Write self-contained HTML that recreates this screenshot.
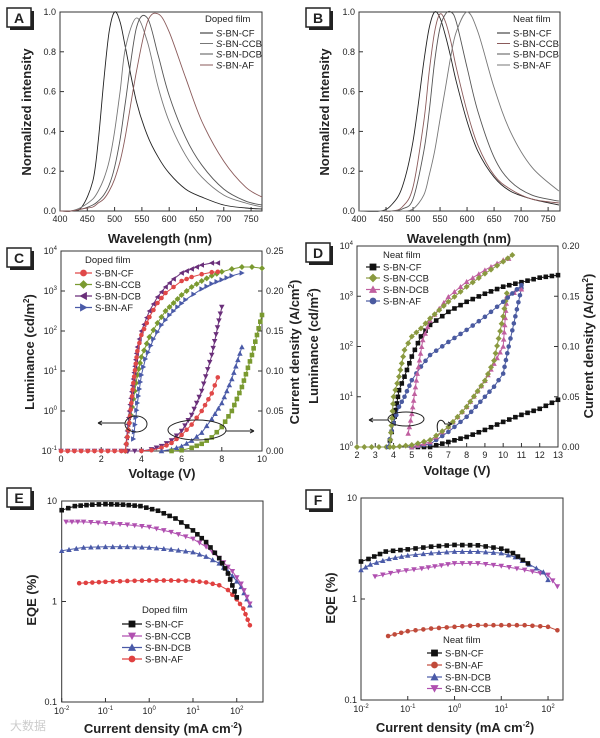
<!DOCTYPE html>
<html><head><meta charset="utf-8"><style>
html,body{margin:0;padding:0;background:#fff;}
svg{display:block;font-family:"Liberation Sans","Noto Sans CJK SC",sans-serif;}
</style></head><body>
<svg id="fig" width="600" height="738" viewBox="0 0 600 738" xmlns="http://www.w3.org/2000/svg"></svg>
<script>
// ---------- DATA ----------
// Panel A (doped film PL spectra)
const aWl = [400,420,440,460,470,480,490,500,510,520,540,560,580,600,630,660,700,740,770];
const aCF  = [0,0,0.02,0.15,0.35,0.65,0.9,1.0,0.95,0.82,0.55,0.38,0.27,0.19,0.11,0.07,0.03,0.015,0.01];
const aCCB = [0,0,0.02,0.06,0.1,0.16,0.25,0.4,0.6,0.82,0.97,0.85,0.62,0.45,0.28,0.17,0.08,0.04,0.02];
const aDCB = [0,0,0.01,0.03,0.05,0.08,0.13,0.22,0.36,0.55,0.92,0.97,0.78,0.58,0.37,0.23,0.11,0.05,0.03];
const aAF  = [0,0,0.01,0.02,0.04,0.06,0.1,0.16,0.25,0.38,0.7,0.95,0.99,0.9,0.67,0.45,0.25,0.12,0.07];
// Panel B (neat film PL spectra)
const bWl = [400,440,460,480,500,520,530,540,550,560,570,580,600,620,650,680,720,770];
const bCF  = [0,0,0.03,0.12,0.35,0.75,0.92,1.0,0.97,0.88,0.77,0.65,0.45,0.3,0.17,0.1,0.06,0.03];
const bCCB = [0,0,0,0.02,0.12,0.45,0.7,0.9,0.99,0.95,0.85,0.72,0.5,0.33,0.18,0.11,0.06,0.04];
const bDCB = [0,0,0,0.01,0.06,0.3,0.5,0.75,0.92,0.99,1.0,0.95,0.72,0.5,0.27,0.15,0.08,0.05];
const bAF  = [0,0,0,0,0.01,0.08,0.18,0.3,0.46,0.62,0.78,0.9,1.0,0.9,0.62,0.4,0.22,0.1];
// Panel C luminance (log10 cd/m2) vs voltage
const cV_CF  = [0,1,2,3,3.2,3.4,3.6,3.8,4.0,4.4,4.8,5.2,5.6,6.0,6.5,7.0,7.5,7.8];
const cL_CF  = [-1,-1,-1,-1,-1,-0.3,0.7,1.5,1.9,2.35,2.7,2.95,3.1,3.25,3.35,3.42,3.47,3.48];
const cV_DCB = [3.2,3.4,3.6,3.8,4.0,4.4,4.8,5.2,5.6,6.0,6.5,7.0,7.5,7.8];
const cL_DCB = [-1,0,0.8,1.6,2.0,2.5,2.85,3.1,3.3,3.45,3.55,3.65,3.7,3.7];
const cV_CCB = [3.2,3.4,3.6,3.8,4.0,4.4,4.8,5.2,5.6,6.0,6.5,7.0,7.5,8.0,8.5,9.0,9.5,10];
const cL_CCB = [-1,-0.3,0.3,0.9,1.35,1.85,2.2,2.5,2.7,2.9,3.1,3.25,3.38,3.48,3.55,3.6,3.6,3.57];
const cV_AF  = [3.6,3.8,4.0,4.2,4.6,5.0,5.4,5.8,6.2,6.6,7.0,7.5,8.0,8.5,9.0];
const cL_AF  = [-0.7,0.2,0.9,1.3,1.8,2.15,2.4,2.6,2.78,2.92,3.05,3.18,3.28,3.38,3.45];
// Panel C current density (A/cm2)
const cJV_1 = [0,1,2,3,4,4.5,5,5.5,6,6.5,7,7.5,8];
const cJ_1  = [0,0,0,0,0,0.002,0.006,0.013,0.025,0.045,0.075,0.12,0.18];
const cJV_2 = [4,4.5,5,5.5,6,6.5,7,7.5,7.8];
const cJ_2  = [0,0.001,0.004,0.01,0.02,0.033,0.05,0.072,0.092];
const cJV_3 = [5,5.5,6,6.5,7,7.5,8,8.5,9];
const cJ_3  = [0,0.002,0.006,0.013,0.023,0.04,0.06,0.09,0.13];
const cJV_4 = [5.5,6,6.5,7,7.5,8,8.5,9,9.5,10];
const cJ_4  = [0,0.001,0.004,0.009,0.017,0.03,0.05,0.08,0.12,0.17];
// Panel D luminance (log10)
const dV_CF  = [3.8,4.0,4.3,4.6,5.0,5.5,6,7,8,9,10,11,12,13];
const dL_CF  = [0.13,0.47,1.13,1.4,1.8,2.2,2.43,2.69,2.89,3.05,3.19,3.28,3.37,3.42];
const dV_CCB = [3.8,4.0,4.3,4.6,5,5.5,6,7,8,9,10,10.5];
const dL_CCB = [0,1.0,1.4,1.93,2.2,2.36,2.56,2.89,3.19,3.45,3.69,3.82];
const dV_DCB = [4.8,5.0,5.3,5.6,6,7,8,9,10,10.3];
const dL_DCB = [0.27,0.66,1.46,2.13,2.52,2.99,3.29,3.52,3.72,3.75];
const dV_AF  = [3.7,4.0,4.3,4.6,5,5.5,6,7,8,9,10,11];
const dL_AF  = [0,0.47,0.8,1.0,1.33,1.6,1.83,2.09,2.33,2.59,2.89,3.22];
// Panel D current density
const dJV_CCB = [2,4,5,6,7,8,9,9.5,10,10.2];
const dJ_CCB  = [0,0,0.002,0.007,0.02,0.04,0.066,0.086,0.13,0.153];
const dJV_DCB = [5,6,7,8,9,9.5,10,10.2,11];
const dJ_DCB  = [0,0.005,0.02,0.04,0.066,0.083,0.1,0.15,0.157];
const dJV_AF  = [5,6,7,8,9,9.5,10,10.3,10.5,11];
const dJ_AF   = [0,0.003,0.015,0.03,0.05,0.06,0.073,0.1,0.116,0.158];
const dJV_CF  = [5,6,7,8,9,10,11,12,13];
const dJ_CF   = [0,0,0.005,0.01,0.017,0.025,0.032,0.038,0.047];
// Panel E EQE (doped): log10 current density, EQE %
const eX_CF  = [-2,-1.7,-1.3,-1,-0.6,-0.2,0.2,0.6,1,1.3,1.6,1.8,2.0];
const eY_CF  = [8.1,8.9,9.2,9.3,9.2,8.9,8.0,6.7,5.1,3.9,2.7,1.9,1.1];
const eX_CCB = [-1.9,-1.5,-1,-0.5,0,0.5,1,1.3,1.6,1.9,2.1,2.3];
const eY_CCB = [6.2,6.2,6.0,5.8,5.5,4.9,4.2,3.5,2.7,2.0,1.5,0.95];
const eX_DCB = [-2,-1.5,-1,-0.5,0,0.5,1,1.3,1.6,1.9,2.1,2.3];
const eY_DCB = [3.2,3.45,3.5,3.5,3.45,3.3,3.1,2.8,2.4,1.8,1.4,0.92];
const eX_AF  = [-1.6,-1,-0.5,0,0.5,1,1.3,1.6,1.8,2,2.15,2.3];
const eY_AF  = [1.52,1.57,1.6,1.62,1.62,1.6,1.55,1.45,1.3,1.05,0.85,0.58];
// Panel F EQE (neat)
const fX_CF  = [-2,-1.84,-1.47,-1,-0.5,0,0.5,1,1.25,1.57];
const fY_CF  = [2.35,2.49,2.95,3.1,3.3,3.43,3.4,3.15,2.85,2.25];
const fX_DCB = [-2,-1.8,-1.4,-1,-0.5,0,0.5,1,1.3,1.6,1.9,2.0];
const fY_DCB = [1.94,2.2,2.5,2.7,2.85,2.95,2.95,2.85,2.6,2.2,1.85,1.55];
const fX_CCB = [-1.7,-1.2,-0.7,0,0.5,1,1.5,2,2.2];
const fY_CCB = [1.67,1.87,2.0,2.25,2.25,2.12,1.94,1.73,1.33];
const fX_AF  = [-1.42,-1,-0.5,0,0.5,1,1.5,2,2.2];
const fY_AF  = [0.43,0.48,0.51,0.53,0.55,0.55,0.55,0.53,0.49];
// tick labels
const wlTicks = [400,450,500,550,600,650,700,750];
const normTicks = ['0.0','0.2','0.4','0.6','0.8','1.0'];
const cVTicks = [0,2,4,6,8,10];
const dVTicks = [2,3,4,5,6,7,8,9,10,11,12,13];
const cJTicks = ['0.00','0.05','0.10','0.15','0.20','0.25'];
const dJTicks = ['0.00','0.05','0.10','0.15','0.20'];

// ---------- HELPERS ----------
const NS='http://www.w3.org/2000/svg';
const svg=document.getElementById('fig');
function mk(tag,attrs,parent){const e=document.createElementNS(NS,tag);for(const k in attrs)e.setAttribute(k,attrs[k]);(parent||svg).appendChild(e);return e;}
function lin(d0,d1,r0,r1){return v=>r0+(v-d0)*(r1-r0)/(d1-d0);}
function smoothPath(pts){let d='M'+pts[0][0]+','+pts[0][1];for(let i=0;i<pts.length-1;i++){const p0=pts[i-1]||pts[i],p1=pts[i],p2=pts[i+1],p3=pts[i+2]||p2;const c1=[p1[0]+(p2[0]-p0[0])/6,p1[1]+(p2[1]-p0[1])/6],c2=[p2[0]-(p3[0]-p1[0])/6,p2[1]-(p3[1]-p1[1])/6];d+=' C'+c1[0].toFixed(1)+','+c1[1].toFixed(1)+' '+c2[0].toFixed(1)+','+c2[1].toFixed(1)+' '+p2[0].toFixed(1)+','+p2[1].toFixed(1);}return d;}
function marker(g,type,x,y,col,s){s=s||2.3;let e;
 if(type==='circle')e=mk('circle',{cx:x,cy:y,r:s,fill:col},g);
 else if(type==='square')e=mk('rect',{x:x-s,y:y-s,width:2*s,height:2*s,fill:col},g);
 else{let p;if(type==='diamond')p=[[x,y-s*1.3],[x+s*1.3,y],[x,y+s*1.3],[x-s*1.3,y]];
  else if(type==='up')p=[[x,y-s*1.2],[x+s*1.2,y+s],[x-s*1.2,y+s]];
  else if(type==='down')p=[[x,y+s*1.2],[x+s*1.2,y-s],[x-s*1.2,y-s]];
  else if(type==='left')p=[[x-s*1.2,y],[x+s,y-s*1.2],[x+s,y+s*1.2]];
  else p=[[x+s*1.2,y],[x-s,y-s*1.2],[x-s,y+s*1.2]];
  e=mk('polygon',{points:p.map(q=>q.join(',')).join(' '),fill:col},g);}
 
 }
function series(name,xs,ys,sx,sy,col,mtype,smooth,dense){
 const g=mk('g',{});
 
 
 const pts=xs.map((x,i)=>[sx(x),sy(ys[i])]);
 const p=mk('path',{d:smooth?smoothPath(pts):'M'+pts.map(q=>q[0].toFixed(1)+','+q[1].toFixed(1)).join(' L'),fill:'none',stroke:col,'stroke-width':smooth&&!mtype?0.9:1},g);
 
 
 if(mtype){if(dense){for(let i=0;i<pts.length-1;i++){const n=Math.max(1,Math.round(Math.hypot(pts[i+1][0]-pts[i][0],pts[i+1][1]-pts[i][1])/7));for(let k=0;k<n;k++){const t=k/n;marker(g,mtype,pts[i][0]+t*(pts[i+1][0]-pts[i][0]),pts[i][1]+t*(pts[i+1][1]-pts[i][1]),col);}}const L=pts[pts.length-1];marker(g,mtype,L[0],L[1],col);}
  else pts.forEach(q=>marker(g,mtype,q[0],q[1],col));}
}
function txt(s,x,y,attrs,name){const t=mk('text',Object.assign({x:x,y:y,'font-size':9,fill:'#222'},attrs||{}));t.textContent=s;
 
 return t;}
function powTxt(exp,x,y,anchor,name){const t=mk('text',{x:x,y:y,'font-size':9,fill:'#222','text-anchor':anchor});
 
 
 const a=mk('tspan',{},t);a.textContent='10';const b=mk('tspan',{'font-size':6,dy:-4},t);b.textContent=exp;return t;}
function box(x0,y0,x1,y1,name){const r=mk('rect',{x:x0,y:y0,width:x1-x0,height:y1-y0,fill:'none',stroke:'#333','stroke-width':1});
 
 }
function tick(x1,y1,x2,y2){const l=mk('line',{x1:x1,y1:y1,x2:x2,y2:y2,stroke:'#333','stroke-width':1});
 
 }
function panelLabel(s,x,y){const sh=mk('rect',{x:x+3,y:y+3,width:24,height:19,fill:'#222'});
 
 
 const b=mk('rect',{x:x,y:y,width:24,height:19,fill:'#fff',stroke:'#222','stroke-width':1.5});
 
 
 txt(s,x+12,y+15,{'font-size':14,'font-weight':'bold','text-anchor':'middle'},'panel-label-'+s);}
function title(s,x,y,rot,name){const t=txt('',x,y,{'font-size':13,'font-weight':'bold','text-anchor':'middle',transform:rot?'rotate(-90 '+x+' '+y+')':''},name);t.innerHTML=s;}
function legendLine(name,label,x0,x1,y,col,mtype){const l=mk('line',{x1:x0,y1:y,x2:x1,y2:y,stroke:col,'stroke-width':mtype?1.2:1});
 
 
 if(mtype)marker(svg,mtype,(x0+x1)/2,y,col,3.4);
 const t=txt('',x1+3,y+3.5,{'font-size':9.5},name+'-label');t.innerHTML=label;}
const IT='<tspan font-style="italic">S</tspan>';

// ---------- PANEL A ----------
{const sx=lin(400,770,60,262),sy=lin(0,1,211,12);
 box(60,12,262,211,'panel-a-axes');
 wlTicks.forEach(w=>{tick(sx(w),211,sx(w),207);txt(w,sx(w),222,{'text-anchor':'middle'},'x-tick-label');});
 normTicks.forEach(v=>{tick(60,sy(+v),64,sy(+v));txt(v,56,sy(+v)+3,{'text-anchor':'end'},'y-tick-label');});
 series('a-cf',aWl,aCF,sx,sy,'#222',null,true);
 series('a-ccb',aWl,aCCB,sx,sy,'#777',null,true);
 series('a-dcb',aWl,aDCB,sx,sy,'#555',null,true);
 series('a-af',aWl,aAF,sx,sy,'#8a5a5a',null,true);
 txt('Doped film',205,22,{'font-size':9.5},'legend-title');
 legendLine('legend-a-cf',IT+'-BN-CF',200,213,33,'#222');
 legendLine('legend-a-ccb',IT+'-BN-CCB',200,213,43.5,'#777');
 legendLine('legend-a-dcb',IT+'-BN-DCB',200,213,54,'#555');
 legendLine('legend-a-af',IT+'-BN-AF',200,213,65,'#8a5a5a');
 title('Normalized intensity',31,112,true,'y-axis-title-a');
 title('Wavelength (nm)',160,243,false,'x-axis-title-a');
 panelLabel('A',7,8);}
// ---------- PANEL B ----------
{const sx=lin(400,772,359,560),sy=lin(0,1,211,12);
 box(359,12,560,211,'panel-b-axes');
 wlTicks.forEach(w=>{tick(sx(w),211,sx(w),207);txt(w,sx(w),222,{'text-anchor':'middle'},'x-tick-label');});
 normTicks.forEach(v=>{tick(359,sy(+v),363,sy(+v));txt(v,355,sy(+v)+3,{'text-anchor':'end'},'y-tick-label');});
 series('b-cf',bWl,bCF,sx,sy,'#222',null,true);
 series('b-ccb',bWl,bCCB,sx,sy,'#8a5a5a',null,true);
 series('b-dcb',bWl,bDCB,sx,sy,'#555',null,true);
 series('b-af',bWl,bAF,sx,sy,'#777',null,true);
 txt('Neat film',513,22,{'font-size':9.5},'legend-title');
 legendLine('legend-b-cf','S-BN-CF',497,510,33,'#222');
 legendLine('legend-b-ccb','S-BN-CCB',497,510,43.5,'#8a5a5a');
 legendLine('legend-b-dcb','S-BN-DCB',497,510,54,'#555');
 legendLine('legend-b-af','S-BN-AF',497,510,65,'#777');
 title('Normalized Intensity',329,112,true,'y-axis-title-b');
 title('Wavelength (nm)',459,243,false,'x-axis-title-b');
 panelLabel('B',306,8);}
// ---------- PANEL C ----------
{const sx=lin(0,10,61,262),sy=lin(-1,4,451,251),sj=lin(0,0.25,451,251);
 box(61,251,262,451,'panel-c-axes');
 cVTicks.forEach(v=>{tick(sx(v),451,sx(v),447);txt(v,sx(v),462,{'text-anchor':'middle'},'x-tick-label');});
 [-1,0,1,2,3,4].forEach(e=>{tick(61,sy(e),65,sy(e));powTxt(e,57,sy(e)+3,'end','y-tick-label');});
 cJTicks.forEach(v=>{tick(262,sj(+v),258,sj(+v));txt(v,266,sj(+v)+3,{},'y2-tick-label');});
 series('c-j-1',cJV_1,cJ_1,sx,sj,'#6a2f7a','down',false,true);
 series('c-j-2',cJV_2,cJ_2,sx,sj,'#e04848','circle',false,true);
 series('c-j-3',cJV_3,cJ_3,sx,sj,'#4a5aa8','up',false,true);
 series('c-j-4',cJV_4,cJ_4,sx,sj,'#7a9a30','square',false,true);
 series('c-l-ccb',cV_CCB,cL_CCB,sx,sy,'#7a9a30','diamond',false,true);
 series('c-l-af',cV_AF,cL_AF,sx,sy,'#4a5aa8','right',false,true);
 series('c-l-dcb',cV_DCB,cL_DCB,sx,sy,'#6a2f7a','left',false,true);
 series('c-l-cf',cV_CF,cL_CF,sx,sy,'#e04848','circle',false,true);
 const e1=mk('ellipse',{cx:136,cy:424,rx:11,ry:8,fill:'none',stroke:'#222'});
 
 
 const a1=mk('path',{d:'M125,423 L98,423 M98,423 l4,-2 M98,423 l4,2',stroke:'#222',fill:'none'});
 
 
 const e2=mk('ellipse',{cx:197,cy:430,rx:29,ry:10,fill:'none',stroke:'#222'});
 
 
 const a2=mk('path',{d:'M226,431 L254,431 M254,431 l-4,-2 M254,431 l-4,2',stroke:'#222',fill:'none'});
 
 
 txt('Doped film',85,263,{'font-size':9.5},'legend-title');
 legendLine('legend-c-cf','S-BN-CF',75,92,273,'#e04848','circle');
 legendLine('legend-c-ccb','S-BN-CCB',75,92,284.5,'#7a9a30','diamond');
 legendLine('legend-c-dcb','S-BN-DCB',75,92,296,'#6a2f7a','left');
 legendLine('legend-c-af','S-BN-AF',75,92,307.5,'#4a5aa8','right');
 title('Luminance (cd/m<tspan font-size="8" dy="-5">2</tspan><tspan dy="5">)</tspan>',34,352,true,'y-axis-title-c');
 title('Current density (A/cm<tspan font-size="8" dy="-5">2</tspan><tspan dy="5">)</tspan>',299,352,true,'y2-axis-title-c');
 title('Voltage (V)',162,478,false,'x-axis-title-c');
 panelLabel('C',7,248);}
// ---------- PANEL D ----------
{const sx=lin(2,13,357,558),sy=lin(0,4,447,246),sj=lin(0,0.2,447,246);
 box(357,246,558,447,'panel-d-axes');
 dVTicks.forEach(v=>{tick(sx(v),447,sx(v),443);txt(v,sx(v),458,{'text-anchor':'middle'},'x-tick-label');});
 [0,1,2,3,4].forEach(e=>{tick(357,sy(e),361,sy(e));powTxt(e,353,sy(e)+3,'end','y-tick-label');});
 dJTicks.forEach(v=>{tick(558,sj(+v),554,sj(+v));txt(v,562,sj(+v)+3,{},'y2-tick-label');});
 series('d-j-cf',dJV_CF,dJ_CF,sx,sj,'#111','square',false,true);
 series('d-j-af',dJV_AF,dJ_AF,sx,sj,'#4a5aa0','circle',false,true);
 series('d-j-dcb',dJV_DCB,dJ_DCB,sx,sj,'#c060a0','up',false,true);
 series('d-j-ccb',dJV_CCB,dJ_CCB,sx,sj,'#8a9a40','diamond',false,true);
 series('d-l-cf',dV_CF,dL_CF,sx,sy,'#111','square',false,true);
 series('d-l-af',dV_AF,dL_AF,sx,sy,'#4a5aa0','circle',false,true);
 series('d-l-dcb',dV_DCB,dL_DCB,sx,sy,'#c060a0','up',false,true);
 series('d-l-ccb',dV_CCB,dL_CCB,sx,sy,'#8a9a40','diamond',false,true);
 const e1=mk('ellipse',{cx:406,cy:419,rx:18,ry:7,fill:'none',stroke:'#222'});
 
 
 const a1=mk('path',{d:'M388,420 L369,420 M369,420 l4,-2 M369,420 l4,2',stroke:'#222',fill:'none'});
 
 
 const a2=mk('path',{d:'M438,432 C435,420 442,417 445,424 L452,424 M452,424 l-4,-2 M452,424 l-4,2',stroke:'#222',fill:'none'});
 
 
 txt('Neat film',383,258,{'font-size':9.5},'legend-title');
 legendLine('legend-d-cf','S-BN-CF',366,380,267,'#111','square');
 legendLine('legend-d-ccb','S-BN-CCB',366,380,278,'#8a9a40','diamond');
 legendLine('legend-d-dcb','S-BN-DCB',366,380,289.5,'#c060a0','up');
 legendLine('legend-d-af','S-BN-AF',366,380,301,'#4a5aa0','circle');
 title('Luminance (cd/m<tspan font-size="8" dy="-5">2</tspan><tspan dy="5">)</tspan>',318,346,true,'y-axis-title-d');
 title('Current density (A/cm<tspan font-size="8" dy="-5">2</tspan><tspan dy="5">)</tspan>',593,346,true,'y2-axis-title-d');
 title('Voltage (V)',457,475,false,'x-axis-title-d');
 panelLabel('D',306,243);}
// ---------- PANEL E ----------
{const sx=lin(-2,2.6,61.7,263),sy=lin(-1,1,702,501),ly=v=>sy(Math.log10(v));
 box(61.7,501,263,702,'panel-e-axes');
 [-2,-1,0,1,2].forEach(e=>{tick(sx(e),702,sx(e),698);powTxt(e,sx(e),714,'middle','x-tick-label');});
 [['0.1',0.1],['1',1],['10',10]].forEach(t=>{tick(61.7,ly(t[1]),66,ly(t[1]));txt(t[0],57,ly(t[1])+3,{'text-anchor':'end'},'y-tick-label');});
 series('e-af',eX_AF,eY_AF,sx,ly,'#e04040','circle',false,true);
 series('e-dcb',eX_DCB,eY_DCB,sx,ly,'#4a5aa8','up',false,true);
 series('e-ccb',eX_CCB,eY_CCB,sx,ly,'#b050b0','down',false,true);
 series('e-cf',eX_CF,eY_CF,sx,ly,'#111','square',false,true);
 txt('Doped film',142,613,{'font-size':9.5},'legend-title');
 legendLine('legend-e-cf','S-BN-CF',122,142,624,'#111','square');
 legendLine('legend-e-ccb','S-BN-CCB',122,142,636,'#b050b0','down');
 legendLine('legend-e-dcb','S-BN-DCB',122,142,647.5,'#4a5aa8','up');
 legendLine('legend-e-af','S-BN-AF',122,142,659,'#e04040','circle');
 title('EQE (%)',36,600,true,'y-axis-title-e');
 title('Current density (mA cm<tspan font-size="8" dy="-5">-2</tspan><tspan dy="5">)</tspan>',163,733,false,'x-axis-title-e');
 panelLabel('E',7,488);
 txt('大数据',10,730,{'font-size':12,fill:'#ccc'},'watermark');}
// ---------- PANEL F ----------
{const sx=lin(-2,2.32,361,563),sy=lin(-1,1,700,498),ly=v=>sy(Math.log10(v));
 box(361,498,563,700,'panel-f-axes');
 [-2,-1,0,1,2].forEach(e=>{tick(sx(e),700,sx(e),696);powTxt(e,sx(e),712,'middle','x-tick-label');});
 [['0.1',0.1],['1',1],['10',10]].forEach(t=>{tick(361,ly(t[1]),365,ly(t[1]));txt(t[0],357,ly(t[1])+3,{'text-anchor':'end'},'y-tick-label');});
 series('f-af',fX_AF,fY_AF,sx,ly,'#c04a3a','circle',false,true);
 series('f-ccb',fX_CCB,fY_CCB,sx,ly,'#b050b0','down',false,true);
 series('f-dcb',fX_DCB,fY_DCB,sx,ly,'#4a5aa8','up',false,true);
 series('f-cf',fX_CF,fY_CF,sx,ly,'#111','square',false,true);
 txt('Neat film',443,643,{'font-size':9.5},'legend-title');
 legendLine('legend-f-cf','S-BN-CF',427,442,653,'#111','square');
 legendLine('legend-f-af','S-BN-AF',427,442,665,'#c04a3a','circle');
 legendLine('legend-f-dcb','S-BN-DCB',427,442,677,'#4a5aa8','up');
 legendLine('legend-f-ccb','S-BN-CCB',427,442,688.5,'#b050b0','down');
 title('EQE (%)',335,598,true,'y-axis-title-f');
 title('Current density (mA cm<tspan font-size="8" dy="-5">-2</tspan><tspan dy="5">)</tspan>',455,732,false,'x-axis-title-f');
 panelLabel('F',306,490);}
</script>
</body></html>
